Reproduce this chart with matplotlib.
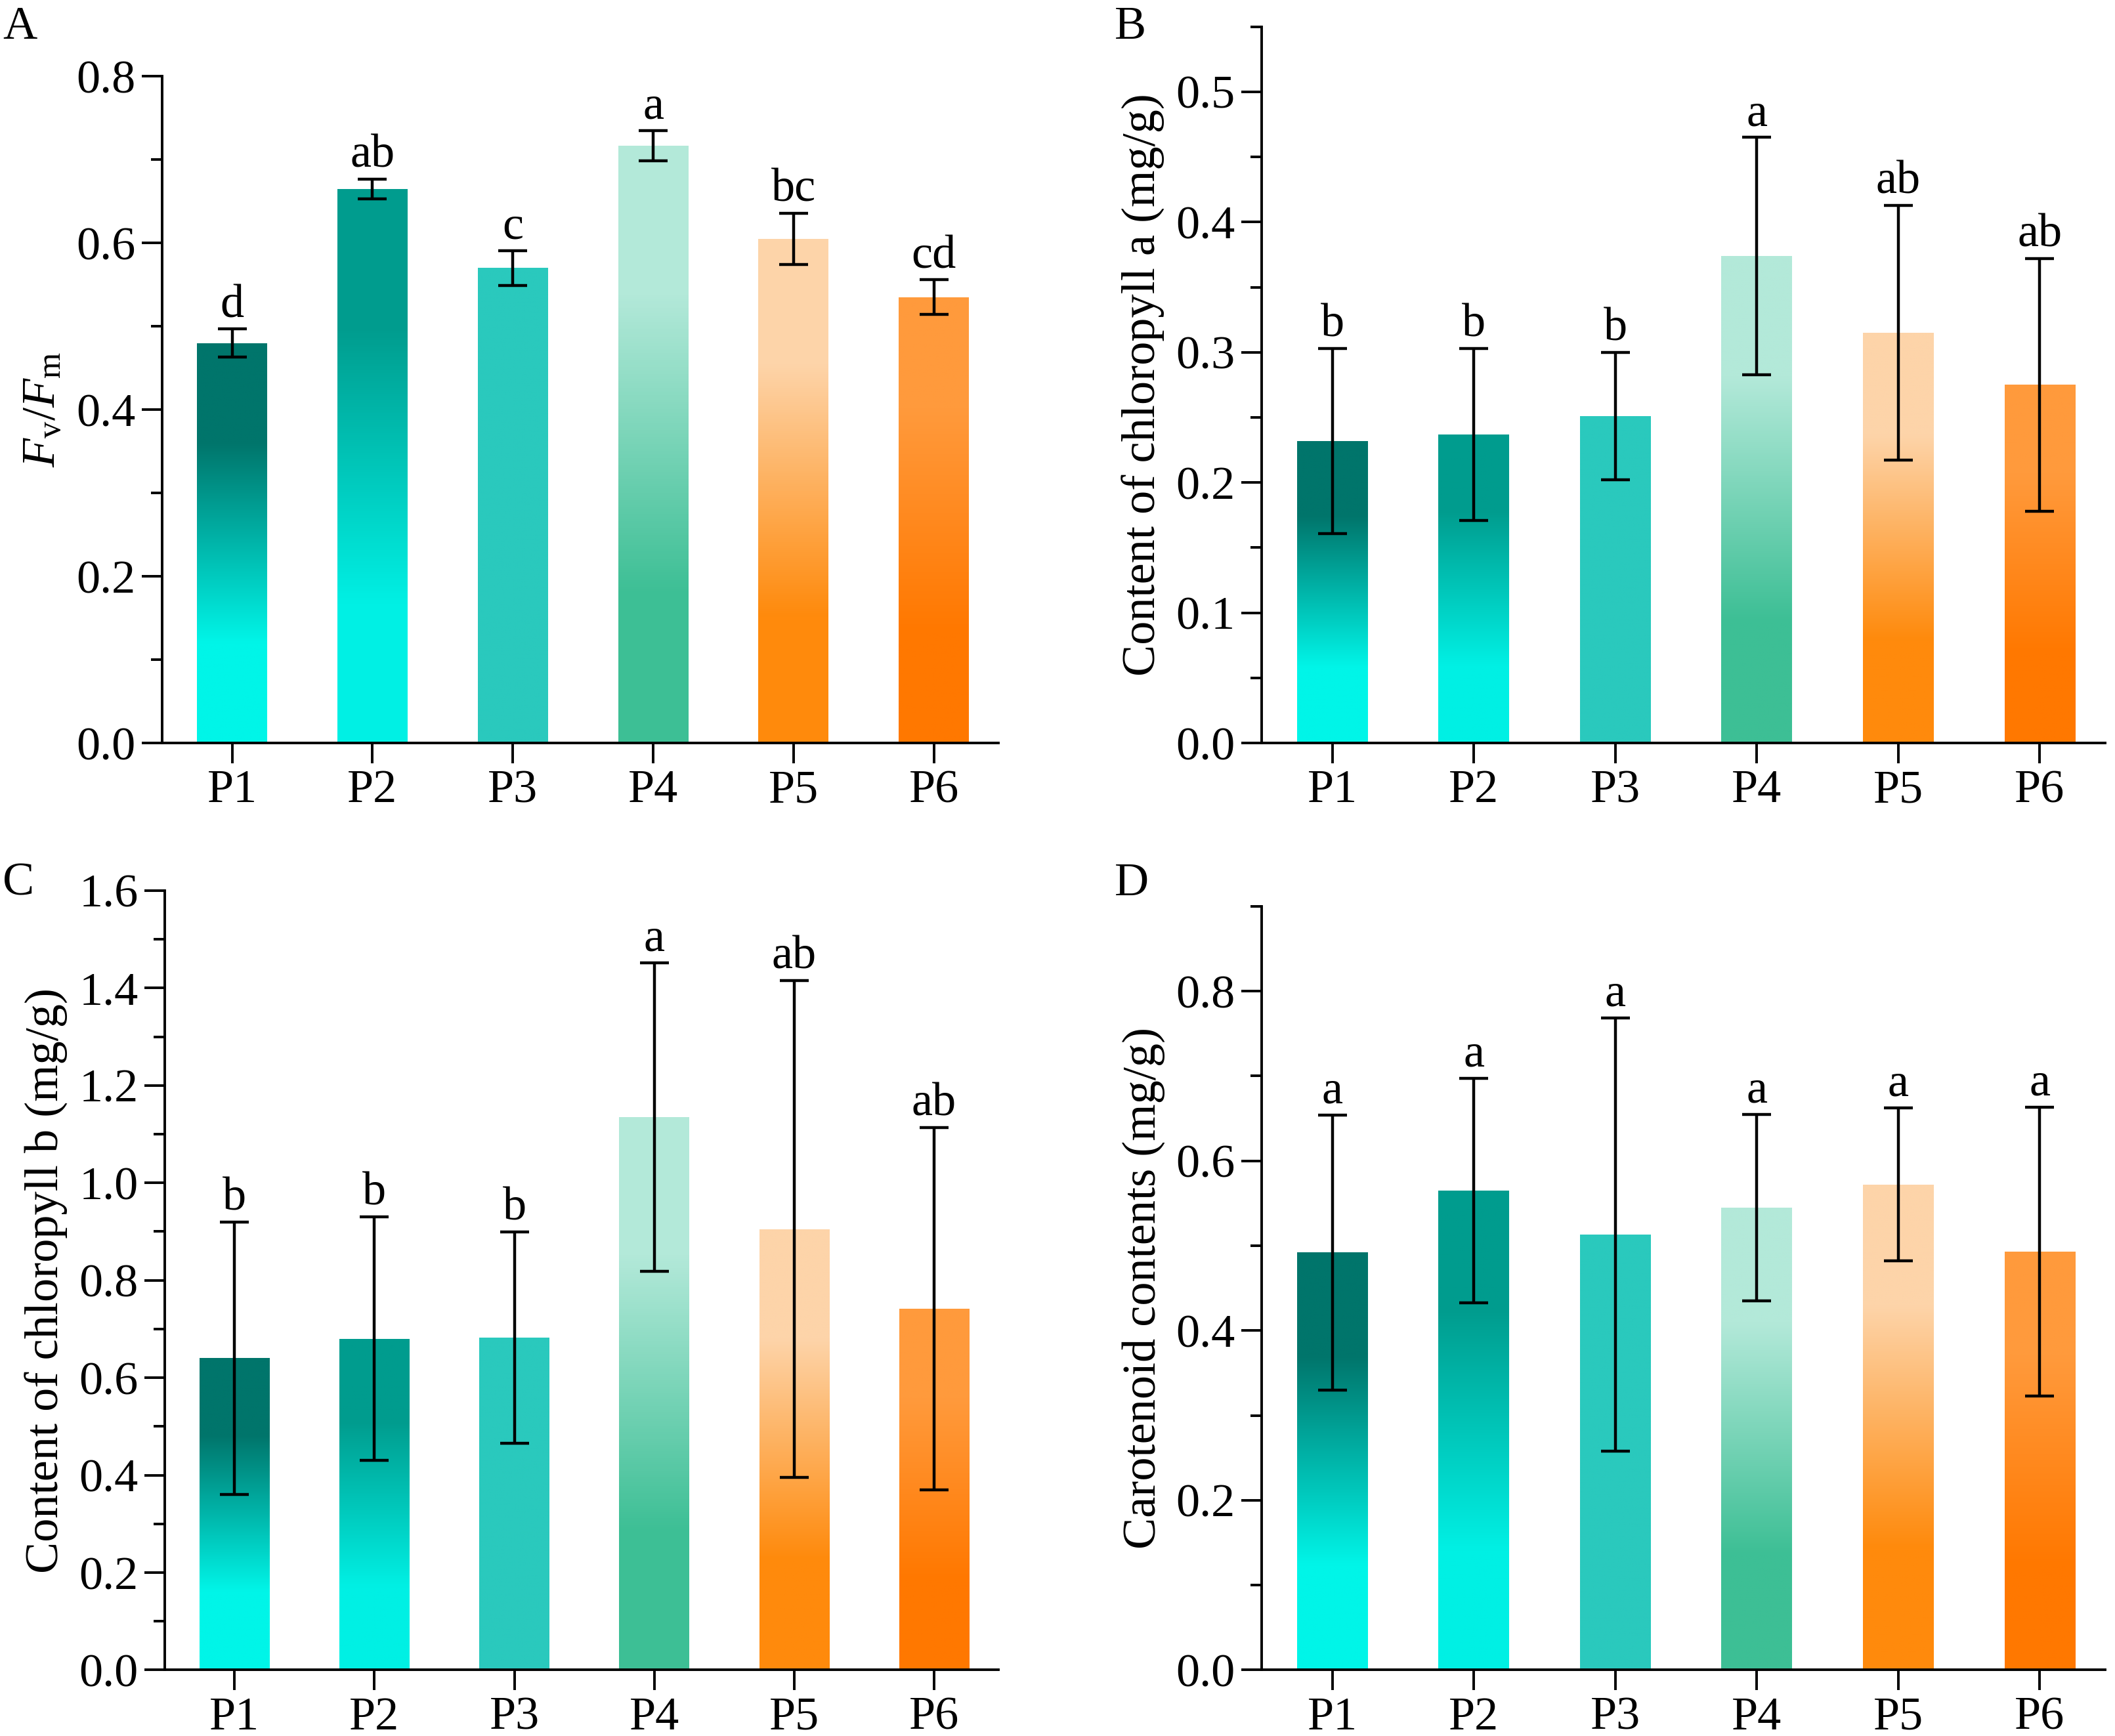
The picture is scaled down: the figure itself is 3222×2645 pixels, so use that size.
import numpy as np
import matplotlib
matplotlib.use("Agg")
import matplotlib.pyplot as plt
from matplotlib.colors import LinearSegmentedColormap

plt.rcParams['font.family'] = ['Liberation Serif', 'DejaVu Serif']
plt.rcParams['mathtext.fontset'] = 'custom'
plt.rcParams['mathtext.rm'] = 'Liberation Serif'
plt.rcParams['mathtext.it'] = 'Liberation Serif:italic'

cats = ["P1", "P2", "P3", "P4", "P5", "P6"]
fvfm = [0.480, 0.665, 0.570, 0.717, 0.605, 0.535]
fvfm_err = [0.017, 0.012, 0.021, 0.018, 0.031, 0.021]
fvfm_lab = ["d", "ab", "c", "a", "bc", "cd"]
chla = [0.232, 0.237, 0.251, 0.374, 0.315, 0.275]
chla_err = [0.071, 0.066, 0.049, 0.091, 0.098, 0.097]
chla_lab = ["b", "b", "b", "a", "ab", "ab"]
chlb = [0.640, 0.680, 0.682, 1.135, 0.905, 0.742]
chlb_err = [0.280, 0.250, 0.217, 0.317, 0.510, 0.372]
chlb_lab = ["b", "b", "b", "a", "ab", "ab"]
car = [0.492, 0.565, 0.513, 0.545, 0.572, 0.493]
car_err = [0.162, 0.132, 0.255, 0.110, 0.090, 0.170]
car_lab = ["a"] * 6

# (top colour, bottom colour) per bar
grads = [("#00756b", "#00f5e8"), ("#009c8e", "#00f0e4"), ("#2ac9bd", "#2ac9bd"),
         ("#b3e9d9", "#3dbf95"), ("#fdd4a9", "#ff8a0c"), ("#ff9a3c", "#ff7800")]

W, H = 1568, 1287
FS = 26
fig = plt.figure(figsize=(3223/200, 2645/200), dpi=200)

def panel(rect, vals, errs, labs, ylim, step, ylabel, letter, lpos):
    ax = fig.add_axes(rect)
    x = np.arange(len(cats))
    bars = ax.bar(x, vals, width=0.5, color='none', edgecolor='none', zorder=2)
    for b, (ct, cb) in zip(bars, grads):
        cmap = LinearSegmentedColormap.from_list('g', [(0, cb), (0.25, cb), (0.75, ct), (1, ct)])
        grad = np.linspace(0, 1, 256).reshape(-1, 1)
        im = ax.imshow(grad, cmap=cmap, origin='lower', aspect='auto',
                       extent=[b.get_x(), b.get_x() + b.get_width(), 0, b.get_height()], zorder=2)
        im.set_clip_path(b)
    ax.errorbar(x, vals, yerr=errs, fmt='none', ecolor='black', elinewidth=1.6,
                capsize=8, capthick=1.6, zorder=3)
    for xi, v, e, l in zip(x, vals, errs, labs):
        ax.text(xi, v + e + ylim * 0.003, l, ha='center', va='bottom', fontsize=FS)
    ax.set_xlim(-0.5, 5.46)
    ax.set_ylim(0, ylim)
    ax.set_yticks(np.arange(0, ylim + 1e-9, step))
    ax.set_yticks(np.arange(step / 2, ylim + 1e-9, step), minor=True)
    ax.yaxis.set_major_formatter(matplotlib.ticker.FormatStrFormatter('%.1f'))
    ax.set_xticks(x)
    ax.set_xticklabels(cats)
    ax.tick_params(axis='both', labelsize=FS, width=1.4, length=11, direction='out')
    ax.tick_params(axis='y', which='minor', width=1.4, length=6)
    for s in ['top', 'right']:
        ax.spines[s].set_visible(False)
    for s in ['left', 'bottom']:
        ax.spines[s].set_linewidth(1.4)
    ax.set_ylabel(ylabel, fontsize=FS, labelpad=6)
    fig.text(lpos[0] / W, 1 - lpos[1] / H, letter, fontsize=FS, va='center', ha='left')
    return ax

panel([120/W, 0.572, 620/W, 0.384], fvfm, fvfm_err, fvfm_lab, 0.8, 0.2,
      r'$F_{\mathrm{v}}/F_{\mathrm{m}}$', 'A', (2, 20))
panel([935/W, 0.572, 625/W, 0.4126], chla, chla_err, chla_lab, 0.55, 0.1,
      'Content of chloropyll a (mg/g)', 'B', (826, 20))
panel([122/W, 0.038, 618/W, 0.449], chlb, chlb_err, chlb_lab, 1.6, 0.2,
      'Content of chloropyll b (mg/g)', 'C', (2, 655))
panel([935/W, 0.038, 625/W, 0.44], car, car_err, car_lab, 0.9, 0.2,
      'Carotenoid contents (mg/g)', 'D', (826, 655))

fig.savefig('out.png', dpi=200, facecolor='white')
